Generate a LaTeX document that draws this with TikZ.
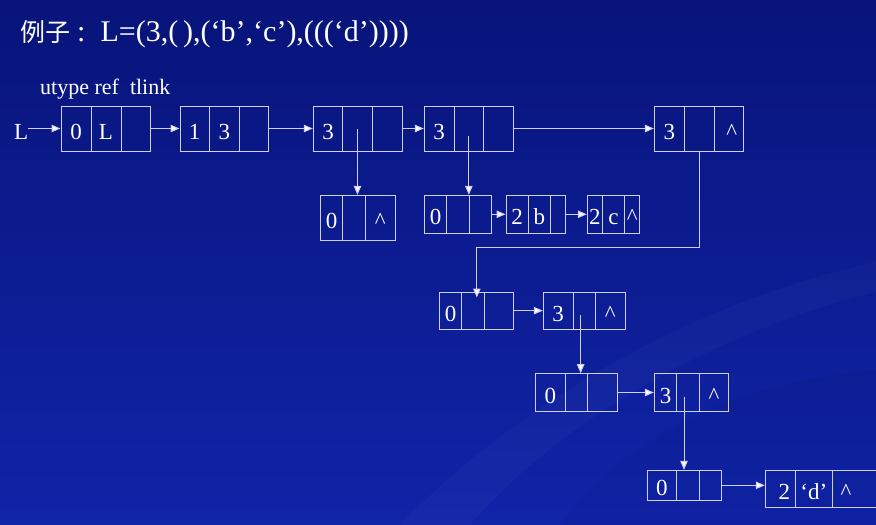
\documentclass[tikz,border=0pt]{standalone}
\usepackage{fontspec}
\setmainfont{Liberation Serif}
\newfontfamily\cjk{Noto Sans CJK SC}
\usetikzlibrary{arrows.meta,calc}
\definecolor{bgtop}{RGB}{8,20,122}
\definecolor{bgbot}{RGB}{16,36,168}
\definecolor{ln}{RGB}{205,208,240}
\tikzset{
  cellst/.style={draw=ln, line width=1pt, inner sep=0pt, text=white,
    font=\fontsize{23}{23}\selectfont, text height=21pt, text depth=0pt},
  arr/.style={draw=ln, line width=1pt, -{Triangle[length=9pt,width=7.5pt,fill=white]}},
  lnk/.style={draw=ln, line width=1pt},
}
\newcommand\cel[6]{\node[cellst, minimum width={(#3)-(#2)}, minimum height={(#5)-(#4)}] (#1) at ({((#2)+(#3))/2},{((#4)+(#5))/2}) {#6};}
\begin{document}
\begin{tikzpicture}[x=1pt,y=-1pt]
\useasboundingbox (0,0) rectangle (876,525);
\shade[top color=bgtop, bottom color=bgbot] (0,0) rectangle (876,525);
% faint swirls
\fill[white, opacity=0.025] (400,525) .. controls (520,400) and (700,300) .. (876,262) -- (876,292) .. controls (720,330) and (560,420) .. (470,525) -- cycle;
\fill[black, opacity=0.035] (560,525) .. controls (640,420) and (760,380) .. (876,370) -- (876,525) -- cycle;

% title
\node[anchor=base west, text=white, font=\fontsize{30}{30}\selectfont, inner sep=0pt] (title) at (20,41) {{\cjk\fontsize{25}{25}\selectfont 例子}\hspace{7pt}:\hspace{15pt}L=(3,(\,),(‘b’,‘c’),(((‘d’))))};
\node[anchor=base west, text=white, font=\fontsize{22}{22}\selectfont, inner sep=0pt] (hdr) at (40,94) {utype ref\hspace{11pt}tlink};
\node[anchor=base west, text=white, font=\fontsize{23}{23}\selectfont, inner sep=0pt] (Lname) at (14,139.5) {L};

% row 1
\cel{b1a}{61}{91}{106}{151}{0}
\cel{b1b}{91}{121}{106}{151}{L}
\cel{b1c}{121}{150}{106}{151}{}
\cel{b2a}{180}{209.3}{106}{151}{1}
\cel{b2b}{209.3}{239.3}{106}{151}{3}
\cel{b2c}{239.3}{268.7}{106}{151}{}
\cel{b3a}{313.3}{342.7}{106}{151}{3}
\cel{b3b}{342.7}{372.3}{106}{151}{}
\cel{b3c}{372.3}{402.3}{106}{151}{}
\cel{b4a}{424.3}{454}{106}{151}{3}
\cel{b4b}{454}{483.7}{106}{151}{}
\cel{b4c}{483.7}{513.3}{106}{151}{}
\cel{b5a}{654.3}{684.3}{106}{151}{3}
\cel{b5b}{684.3}{714}{106}{151}{}
\cel{b5c}{714}{743.3}{106}{151}{\hspace{6pt}\textasciicircum}

% row 2
\cel{Aa}{320.7}{342.7}{195.3}{240.3}{0}
\cel{Ab}{342.7}{365.3}{195.3}{240.3}{}
\cel{Ac}{365.3}{395.3}{195.3}{240.3}{\textasciicircum}
\cel{Ba}{424.3}{446.7}{195.3}{233.3}{0}
\cel{Bb}{446.7}{469}{195.3}{233.3}{}
\cel{Bc}{469}{491.3}{195.3}{233.3}{}
\cel{Ca}{506}{528}{195.3}{233.3}{2}
\cel{Cb}{528}{550.7}{195.3}{233.3}{b}
\cel{Cc}{550.7}{565.3}{195.3}{233.3}{}
\cel{Da}{587.3}{602.3}{195.3}{233.3}{2}
\cel{Db}{602.3}{624.7}{195.3}{233.3}{c}
\cel{Dc}{624.7}{639.7}{195.3}{233.3}{\textasciicircum}

% row 3
\cel{Ea}{439.3}{461.7}{292}{329.3}{0}
\cel{Eb}{461.7}{484}{292}{329.3}{}
\cel{Ec}{484}{513.7}{292}{329.3}{}
\cel{Fa}{543.3}{573}{292}{329.3}{3}
\cel{Fb}{573}{595.3}{292}{329.3}{}
\cel{Fc}{595.3}{625}{292}{329.3}{\textasciicircum}

% row 4
\cel{Ga}{535.3}{565.3}{373.7}{411.3}{0}
\cel{Gb}{565.3}{587.7}{373.7}{411.3}{}
\cel{Gc}{587.7}{617.3}{373.7}{411.3}{}
\cel{Ha}{654.3}{676.7}{373.7}{411.3}{3}
\cel{Hb}{676.7}{699.3}{373.7}{411.3}{}
\cel{Hc}{699.3}{728.7}{373.7}{411.3}{\textasciicircum}

% row 5
\cel{Ia}{647}{676.7}{470.3}{500.3}{0}
\cel{Ib}{676.7}{699}{470.3}{500.3}{}
\cel{Ic}{699}{721.7}{470.3}{500.3}{}
\cel{Ja}{765.3}{795.3}{470.3}{507.3}{\hspace{8pt}2}
\cel{Jb}{795.3}{832.3}{470.3}{507.3}{‘d’}
\cel{Jc}{832.3}{890}{470.3}{507.3}{}
\node[cellst, draw=none] (Jcar) at (846,488.8) {\textasciicircum};

% connectors
\draw[arr] (Lname.east |- b1a.west) -- (b1a.west);
\draw[arr] (b1c.east) -- (b2a.west);
\draw[arr] (b2c.east) -- (b3a.west);
\draw[arr] (b3c.east) -- (b4a.west);
\draw[arr] (b4c.east) -- (b5a.west);
\draw[arr] (b3b.center) -- (b3b.center |- Ab.north);
\draw[arr] ([yshift=-7pt]b4b.center) -- (b4b.center |- Bb.north);
\draw[arr] (Bc.east) -- (Ca.west);
\draw[arr] (Cc.east) -- (Da.west);
\draw[arr] (b5b.south) -- ++(0,96) -| ([xshift=4pt,yshift=-6pt]Eb.north);
\draw[arr] (Ec.east) -- (Fa.west);
\draw[arr] ([xshift=-3.5pt,yshift=-4pt]Fb.center) -- ([xshift=-3.5pt]Fb.center |- Gb.north);
\draw[arr] (Gc.east) -- (Ha.west);
\draw[arr] ([xshift=-4pt,yshift=-4pt]Hb.center) -- ([xshift=-4pt]Hb.center |- Ib.north);
\draw[arr] (Ic.east) -- (Ic.east -| Ja.west);
\end{tikzpicture}
\end{document}
